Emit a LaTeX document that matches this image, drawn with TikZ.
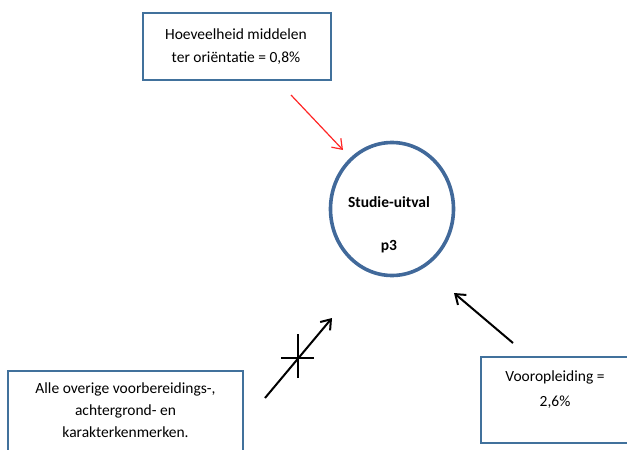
\documentclass[tikz,border=0pt]{standalone}
\usepackage{fontspec}
\setmainfont{Carlito}
\usetikzlibrary{arrows.meta,shapes.geometric}
\definecolor{boxblue}{HTML}{41719C}
\definecolor{circblue}{HTML}{41699A}
\begin{document}
\begin{tikzpicture}[x=1pt,y=-1pt,
  infobox/.style={draw=boxblue,line width=1.2pt,inner sep=0pt},
  txt/.style={align=center,inner sep=0pt},
  arr/.style={line width=2pt,-{Straight Barb[length=9pt,width=13pt]}}]
\useasboundingbox (0,0) rectangle (627,450);
\node[infobox,minimum width=188pt,minimum height=67pt] (top) at (237,46.5) {};
\node[txt,font=\fontsize{15.5}{23}\selectfont] (topt) at (236,46.5) {Hoeveelheid middelen\\ter oriëntatie = 0,8\%};
\node[draw=circblue,line width=3.6pt,ellipse,minimum width=123pt,minimum height=133pt,inner sep=0pt] (c) at (392,209) {};
\node[font=\fontsize{15.5}{18}\selectfont\bfseries] (t1) at (389,202) {Studie-uitval};
\node[font=\fontsize{15.5}{18}\selectfont\bfseries] (t2) at (389,247) {p3};
\node[infobox,minimum width=235pt,minimum height=90pt] (bl) at (125.5,416) {};
\node[txt,font=\fontsize{15.5}{22}\selectfont] (blt) at (125.5,410) {Alle overige voorbereidings-,\\achtergrond- en\\karakterkenmerken.};
\node[infobox,minimum width=148pt,minimum height=86pt] (br) at (555,400) {};
\node[txt,font=\fontsize{15.5}{25}\selectfont] (brt) at (555,389.5) {Vooropleiding =\\2,6\%};
\coordinate (r1) at (291,95);
\coordinate (r2) at (343,150);
\draw[arr,red!85!white,line width=1.2pt] (r1) -- (r2);
\coordinate (b1) at (265,398);
\coordinate (b2) at (332,318);
\draw[arr] (b1) -- (b2);
\coordinate (x0) at (298,358);
\draw[line width=2pt] ([xshift=-17pt]x0) -- ([xshift=16pt]x0) ([yshift=-20pt]x0) -- ([yshift=24pt]x0);
\coordinate (k1) at (513,343);
\coordinate (k2) at (454,293);
\draw[arr] (k1) -- (k2);
\end{tikzpicture}
\end{document}
